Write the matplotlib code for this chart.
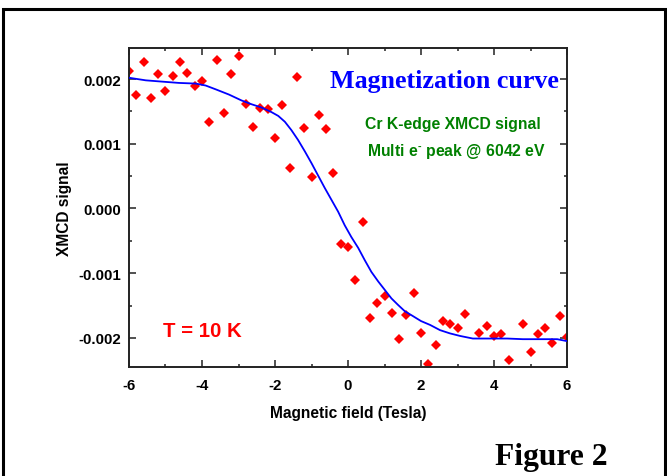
import matplotlib
matplotlib.use('Agg')
import matplotlib.pyplot as plt
from matplotlib.patches import Rectangle
from matplotlib.ticker import MultipleLocator, FuncFormatter

# measured points (field in Tesla, XMCD signal)
field = [-6.0, -5.8, -5.6, -5.4, -5.2, -5.0, -4.8, -4.6, -4.4, -4.2,
         -4.0, -3.8, -3.6, -3.4, -3.2, -3.0, -2.8, -2.6, -2.4, -2.2,
         -2.0, -1.8, -1.6, -1.4, -1.2, -1.0, -0.8, -0.6, -0.4, -0.2,
         0.0, 0.2, 0.4, 0.6, 0.8, 1.0, 1.2, 1.4, 1.6, 1.8,
         2.0, 2.2, 2.4, 2.6, 2.8, 3.0, 3.2, 3.6, 3.8, 4.0,
         4.2, 4.4, 4.8, 5.0, 5.2, 5.4, 5.6, 5.8, 6.0]
signal = [0.00212, 0.00175, 0.00226, 0.00170, 0.00208, 0.00182, 0.00204, 0.00226, 0.00210, 0.00189,
          0.00197, 0.00134, 0.00230, 0.00147, 0.00208, 0.00236, 0.00161, 0.00126, 0.00155, 0.00153,
          0.00109, 0.00160, 0.00062, 0.00203, 0.00125, 0.00049, 0.00144, 0.00123, 0.00055, -0.00055,
          -0.00060, -0.00111, -0.00021, -0.00169, -0.00146, -0.00136, -0.00162, -0.00202, -0.00165, -0.00131,
          -0.00193, -0.00240, -0.00211, -0.00174, -0.00179, -0.00185, -0.00163, -0.00193, -0.00181, -0.00197,
          -0.00194, -0.00234, -0.00179, -0.00222, -0.00194, -0.00184, -0.00208, -0.00166, -0.00199]

# magnetization curve
curve_x = [-6.0, -5.54, -5.09, -4.63, -4.17, -3.90, -3.62, -3.26, -2.92, -2.64,
           -2.37, -2.10, -1.91, -1.73, -1.55, -1.37, -1.18, -1.00, -0.82, -0.64,
           -0.45, -0.27, -0.09, 0.09, 0.28, 0.46, 0.64, 0.83, 1.01, 1.19,
           1.37, 1.56, 1.74, 2.00, 2.25, 2.52, 2.79, 3.07, 3.42, 3.89,
           4.36, 4.79, 5.26, 5.73, 6.0]
curve_y = [0.00202, 0.00198, 0.00196, 0.00194, 0.00193, 0.00190, 0.00184, 0.00176, 0.00167, 0.00161,
           0.00156, 0.00149, 0.00143, 0.00134, 0.00121, 0.00106, 0.00088, 0.00070, 0.00051, 0.00032,
           0.00013, -0.00005, -0.00026, -0.00044, -0.00061, -0.00080, -0.00098, -0.00113, -0.00126, -0.00139,
           -0.00149, -0.00159, -0.00165, -0.00174, -0.00180, -0.00188, -0.00193, -0.00197, -0.00201, -0.00201,
           -0.00201, -0.00202, -0.00202, -0.00202, -0.00205]

x_ticks = [-6, -4, -2, 0, 2, 4, 6]
y_ticks = [-0.002, -0.001, 0.0, 0.001, 0.002]

SANS = 'Liberation Sans'
SERIF = 'Liberation Serif'
plt.rcParams['mathtext.fontset'] = 'custom'
plt.rcParams['mathtext.rm'] = 'Liberation Sans:bold'
plt.rcParams['mathtext.bf'] = 'Liberation Sans:bold'

fig = plt.figure(figsize=(6.67, 4.77), dpi=100)
ax = fig.add_axes([0.1934, 0.2285, 0.6567, 0.6688])

ax.plot(field, signal, linestyle='none', marker='D', markersize=4.6,
        color='#ff0000', markeredgewidth=0, zorder=2)
ax.plot(curve_x, curve_y, color='#0000ff', linewidth=1.3, zorder=3)

ax.set_xlim(-6, 6)
ax.set_ylim(-0.00245, 0.00248)
ax.set_xticks(x_ticks)
ax.set_yticks(y_ticks)
ax.xaxis.set_minor_locator(MultipleLocator(1))
ax.yaxis.set_minor_locator(MultipleLocator(0.0005))
ax.xaxis.set_major_formatter(FuncFormatter(lambda v, p: '%d' % round(v)))
ax.yaxis.set_major_formatter(FuncFormatter(lambda v, p: '%.3f' % v if abs(v) > 1e-9 else '0.000'))

ax.tick_params(which='both', direction='in', top=True, right=True, width=1.1, color='#222222')
ax.tick_params(which='major', length=5)
ax.tick_params(which='minor', length=2.5)
ax.tick_params(axis='x', which='major', pad=8)
ax.tick_params(axis='y', which='major', pad=6)
for lab in ax.get_xticklabels() + ax.get_yticklabels():
    lab.set_fontfamily(SANS)
    lab.set_fontweight('bold')
    lab.set_fontsize(10.8)
for sp in ax.spines.values():
    sp.set_linewidth(1.4)
    sp.set_color('#222222')

ax.set_xlabel('Magnetic field (Tesla)', fontfamily=SANS, fontweight='bold', fontsize=11.2, labelpad=9)
ax.set_ylabel('XMCD signal', fontfamily=SANS, fontweight='bold', fontsize=11.2, labelpad=4)

fig.text(0.667, 0.8155, 'Magnetization curve', color='#0000ff', fontfamily=SERIF,
         fontweight='bold', fontsize=18.7, ha='center', va='baseline')
fig.text(0.547, 0.7296, 'Cr K-edge XMCD signal', color='#008000', fontfamily=SANS,
         fontweight='bold', fontsize=11.3, ha='left', va='baseline')
fig.text(0.550, 0.673, r'Multi e$^{\text{-}}$ peak @ 6042 eV', color='#008000', fontfamily=SANS,
         fontweight='bold', fontsize=11.3, ha='left', va='baseline')
fig.text(0.2444, 0.2935, 'T = 10 K', color='#ff0000', fontfamily=SANS,
         fontweight='bold', fontsize=14.7, ha='left', va='baseline')
fig.text(0.742, 0.0252, 'Figure 2', color='black', fontfamily=SERIF,
         fontweight='bold', fontsize=22.7, ha='left', va='baseline')

# outer frame (bottom edge runs off the picture)
fig.patches.append(Rectangle((2.5 / 667, -0.1), 662 / 667, 1.1 - 9.5 / 477, transform=fig.transFigure,
                             fill=False, edgecolor='black', linewidth=2.2, clip_on=False))

plt.savefig('out.png', dpi=100, facecolor='white')
